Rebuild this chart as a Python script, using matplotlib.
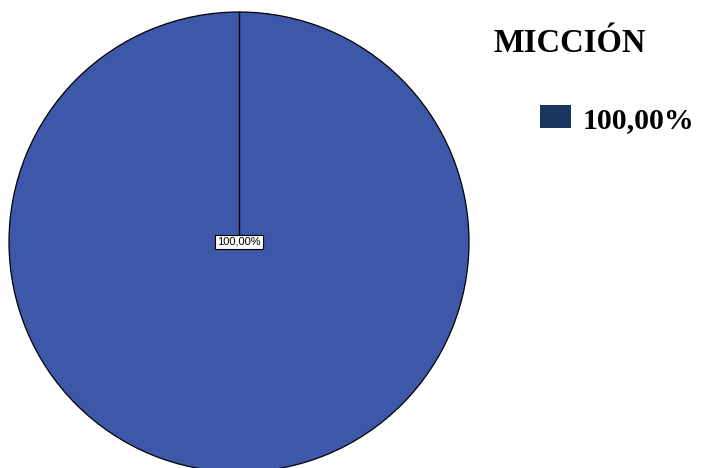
import matplotlib
matplotlib.use("Agg")
import matplotlib.pyplot as plt
from matplotlib.patches import Rectangle

# datos del gráfico
categorias = ["100,00%"]
valores = [100.0]
etiquetas = ["100,00%"]
titulo = "MICCIÓN"

COLOR_PIE = "#3E58A9"
COLOR_LEYENDA = "#1B365E"

W, H = 709, 468
fig = plt.figure(figsize=(W / 100, H / 100), dpi=100)
ax = fig.add_axes([0, 0, 1, 1])

centro = (239, 242)
radio = 230
ax.pie(valores, colors=[COLOR_PIE], startangle=90, counterclock=False,
       center=centro, radius=radio, frame=True,
       wedgeprops=dict(edgecolor="black", linewidth=0.9))
ax.set_xlim(0, W)
ax.set_ylim(H, 0)
ax.set_aspect("equal")
ax.axis("off")

# borde radial del sector (inicio en 90°)
ax.plot([centro[0], centro[0]], [centro[1], centro[1] - radio], color="black", lw=1.0)

ax.text(centro[0], centro[1], etiquetas[0], ha="center", va="center",
        fontsize=8, family="Liberation Sans",
        bbox=dict(boxstyle="square,pad=0.2", fc="white", ec="black", lw=0.8))

# leyenda manual
ax.text(493, 52, titulo, ha="left", va="baseline", fontsize=23.5,
        fontweight="bold", family="Liberation Serif")
ax.add_patch(Rectangle((540, 105), 31, 23, facecolor=COLOR_LEYENDA, edgecolor="none"))
ax.text(583, 128, categorias[0], ha="left", va="baseline", fontsize=21.5,
        fontweight="bold", family="Liberation Serif")

fig.savefig("out.png", dpi=100)
